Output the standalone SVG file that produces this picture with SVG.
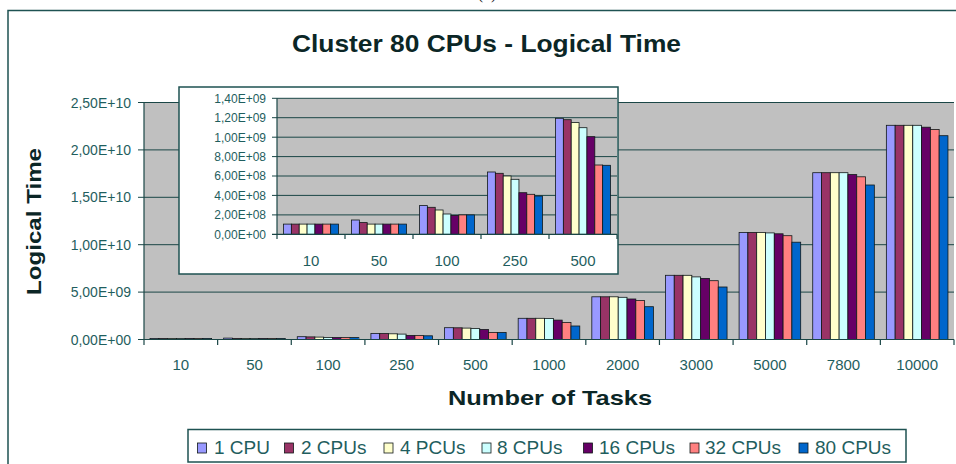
<svg xmlns="http://www.w3.org/2000/svg" width="956" height="464" viewBox="0 0 956 464">
  <defs>
    <style>
      .bg { fill: #ffffff; }
      .frame { fill: none; stroke: #1e5252; stroke-width: 1.5; }
      .plot { fill: #c0c0c0; }
      .grid { stroke: #1a4646; stroke-width: 1; fill: none; }
      .axis { stroke: #1a4646; stroke-width: 1.2; fill: none; }
      .tick { font-family: "Liberation Sans", Arial, sans-serif; fill: #1f5e5e; }
      .ytick { font-size: 14px; text-anchor: end; }
      .ytick-s { font-size: 12px; text-anchor: end; }
      .xtick { font-size: 15px; text-anchor: middle; }
      .title { font-family: "Liberation Sans", Arial, sans-serif; font-weight: bold; fill: #0b2626; }
      .leg { font-family: "Liberation Sans", Arial, sans-serif; font-size: 19px; fill: #1f5e5e; }
      .bars rect { stroke: #101818; stroke-width: 0.8; }
      .c1 { fill: #9999ff; }
      .c2 { fill: #993366; }
      .c3 { fill: #ffffcc; }
      .c4 { fill: #ccffff; }
      .c5 { fill: #660066; }
      .c6 { fill: #ff8080; }
      .c7 { fill: #0066cc; }
      .sw { stroke: #101818; stroke-width: 0.8; }
    </style>
  </defs>

  <rect class="bg" x="0" y="0" width="956" height="464"/>

  <!-- caption line clipped at the top edge -->
  <text x="487" y="-1" font-family="'Liberation Serif', serif" font-size="16" text-anchor="middle" fill="#222">(b)</text>

  <!-- chart frame -->
  <rect class="frame" x="8" y="10.5" width="960" height="470"/>

  <!-- chart title -->
  <g id="title">
    <text class="title" x="486.5" y="52" font-size="24" text-anchor="middle" textLength="389" lengthAdjust="spacingAndGlyphs">Cluster 80 CPUs - Logical Time</text>
  </g>

  <!-- main plot area -->
  <g id="main-plot">
    <rect class="plot" x="144" y="102.5" width="810" height="237"/>
    <g class="grid">
      <line x1="144" y1="102.5" x2="954" y2="102.5"/>
      <line x1="138" y1="149.9" x2="954" y2="149.9"/>
      <line x1="138" y1="197.3" x2="954" y2="197.3"/>
      <line x1="138" y1="244.7" x2="954" y2="244.7"/>
      <line x1="138" y1="292.1" x2="954" y2="292.1"/>
      <line x1="138" y1="102.5" x2="144" y2="102.5"/>
    </g>

    <!-- bars per task count -->
    <g class="bars">
      <g transform="translate(144,0)">
        <rect class="c1" x="6" y="338.5" width="8.8" height="1"/>
        <rect class="c2" x="14.8" y="338.5" width="8.8" height="1"/>
        <rect class="c3" x="23.6" y="338.5" width="8.8" height="1"/>
        <rect class="c4" x="32.4" y="338.5" width="8.8" height="1"/>
        <rect class="c5" x="41.2" y="338.5" width="8.8" height="1"/>
        <rect class="c6" x="50" y="338.5" width="8.8" height="1"/>
        <rect class="c7" x="58.8" y="338.5" width="8.8" height="1"/>
      </g>
      <g transform="translate(217.64,0)">
        <rect class="c1" x="6" y="338.1" width="8.8" height="1.4"/>
        <rect class="c2" x="14.8" y="338.4" width="8.8" height="1.1"/>
        <rect class="c3" x="23.6" y="338.5" width="8.8" height="1"/>
        <rect class="c4" x="32.4" y="338.5" width="8.8" height="1"/>
        <rect class="c5" x="41.2" y="338.5" width="8.8" height="1"/>
        <rect class="c6" x="50" y="338.5" width="8.8" height="1"/>
        <rect class="c7" x="58.8" y="338.5" width="8.8" height="1"/>
      </g>
      <g transform="translate(291.27,0)">
        <rect class="c1" x="6" y="336.7" width="8.8" height="2.8"/>
        <rect class="c2" x="14.8" y="336.9" width="8.8" height="2.6"/>
        <rect class="c3" x="23.6" y="337.1" width="8.8" height="2.4"/>
        <rect class="c4" x="32.4" y="337.5" width="8.8" height="2"/>
        <rect class="c5" x="41.2" y="337.6" width="8.8" height="1.9"/>
        <rect class="c6" x="50" y="337.6" width="8.8" height="1.9"/>
        <rect class="c7" x="58.8" y="337.6" width="8.8" height="1.9"/>
      </g>
      <g transform="translate(364.91,0)">
        <rect class="c1" x="6" y="333.4" width="8.8" height="6.1"/>
        <rect class="c2" x="14.8" y="333.5" width="8.8" height="6"/>
        <rect class="c3" x="23.6" y="333.8" width="8.8" height="5.7"/>
        <rect class="c4" x="32.4" y="334.1" width="8.8" height="5.4"/>
        <rect class="c5" x="41.2" y="335.4" width="8.8" height="4.1"/>
        <rect class="c6" x="50" y="335.6" width="8.8" height="3.9"/>
        <rect class="c7" x="58.8" y="335.8" width="8.8" height="3.7"/>
      </g>
      <g transform="translate(438.55,0)">
        <rect class="c1" x="6" y="327.7" width="8.8" height="11.8"/>
        <rect class="c2" x="14.8" y="327.8" width="8.8" height="11.7"/>
        <rect class="c3" x="23.6" y="328.1" width="8.8" height="11.4"/>
        <rect class="c4" x="32.4" y="328.6" width="8.8" height="10.9"/>
        <rect class="c5" x="41.2" y="329.5" width="8.8" height="10"/>
        <rect class="c6" x="50" y="332.4" width="8.8" height="7.1"/>
        <rect class="c7" x="58.8" y="332.4" width="8.8" height="7.1"/>
      </g>
      <g transform="translate(512.18,0)">
        <rect class="c1" x="6" y="318.3" width="8.8" height="21.2"/>
        <rect class="c2" x="14.8" y="318.3" width="8.8" height="21.2"/>
        <rect class="c3" x="23.6" y="318.3" width="8.8" height="21.2"/>
        <rect class="c4" x="32.4" y="318.5" width="8.8" height="21"/>
        <rect class="c5" x="41.2" y="320.1" width="8.8" height="19.4"/>
        <rect class="c6" x="50" y="322.4" width="8.8" height="17.1"/>
        <rect class="c7" x="58.8" y="326" width="8.8" height="13.5"/>
      </g>
      <g transform="translate(585.82,0)">
        <rect class="c1" x="6" y="296.8" width="8.8" height="42.7"/>
        <rect class="c2" x="14.8" y="296.8" width="8.8" height="42.7"/>
        <rect class="c3" x="23.6" y="296.8" width="8.8" height="42.7"/>
        <rect class="c4" x="32.4" y="297.3" width="8.8" height="42.2"/>
        <rect class="c5" x="41.2" y="299" width="8.8" height="40.5"/>
        <rect class="c6" x="50" y="300.6" width="8.8" height="38.9"/>
        <rect class="c7" x="58.8" y="306.7" width="8.8" height="32.8"/>
      </g>
      <g transform="translate(659.45,0)">
        <rect class="c1" x="6" y="275.3" width="8.8" height="64.2"/>
        <rect class="c2" x="14.8" y="275.3" width="8.8" height="64.2"/>
        <rect class="c3" x="23.6" y="275.3" width="8.8" height="64.2"/>
        <rect class="c4" x="32.4" y="276.9" width="8.8" height="62.6"/>
        <rect class="c5" x="41.2" y="278.4" width="8.8" height="61.1"/>
        <rect class="c6" x="50" y="280.7" width="8.8" height="58.8"/>
        <rect class="c7" x="58.8" y="287" width="8.8" height="52.5"/>
      </g>
      <g transform="translate(733.09,0)">
        <rect class="c1" x="6" y="232.4" width="8.8" height="107.1"/>
        <rect class="c2" x="14.8" y="232.4" width="8.8" height="107.1"/>
        <rect class="c3" x="23.6" y="232.4" width="8.8" height="107.1"/>
        <rect class="c4" x="32.4" y="232.9" width="8.8" height="106.6"/>
        <rect class="c5" x="41.2" y="233.8" width="8.8" height="105.7"/>
        <rect class="c6" x="50" y="235.7" width="8.8" height="103.8"/>
        <rect class="c7" x="58.8" y="242.2" width="8.8" height="97.3"/>
      </g>
      <g transform="translate(806.73,0)">
        <rect class="c1" x="6" y="172.7" width="8.8" height="166.8"/>
        <rect class="c2" x="14.8" y="172.7" width="8.8" height="166.8"/>
        <rect class="c3" x="23.6" y="172.7" width="8.8" height="166.8"/>
        <rect class="c4" x="32.4" y="172.7" width="8.8" height="166.8"/>
        <rect class="c5" x="41.2" y="174.6" width="8.8" height="164.9"/>
        <rect class="c6" x="50" y="176.8" width="8.8" height="162.7"/>
        <rect class="c7" x="58.8" y="185" width="8.8" height="154.5"/>
      </g>
      <g transform="translate(880.36,0)">
        <rect class="c1" x="6" y="125.3" width="8.8" height="214.2"/>
        <rect class="c2" x="14.8" y="125.3" width="8.8" height="214.2"/>
        <rect class="c3" x="23.6" y="125.3" width="8.8" height="214.2"/>
        <rect class="c4" x="32.4" y="125.3" width="8.8" height="214.2"/>
        <rect class="c5" x="41.2" y="127.2" width="8.8" height="212.3"/>
        <rect class="c6" x="50" y="129.5" width="8.8" height="210"/>
        <rect class="c7" x="58.8" y="135.7" width="8.8" height="203.8"/>
      </g>
    </g>

    <!-- axes and ticks -->
    <g class="axis">
      <line x1="144" y1="102.5" x2="144" y2="345"/>
      <line x1="138" y1="339.5" x2="954" y2="339.5"/>
      <path d="M217.64 339.5V345M291.27 339.5V345M364.91 339.5V345M438.55 339.5V345M512.18 339.5V345M585.82 339.5V345M659.45 339.5V345M733.09 339.5V345M806.73 339.5V345M880.36 339.5V345M954 339.5V345"/>
    </g>

    <g class="tick ytick">
      <text x="131" y="107.5">2,50E+10</text>
      <text x="131" y="154.9">2,00E+10</text>
      <text x="131" y="202.3">1,50E+10</text>
      <text x="131" y="249.7">1,00E+10</text>
      <text x="131" y="297.1">5,00E+09</text>
      <text x="131" y="344.5">0,00E+00</text>
    </g>
    <g class="tick xtick">
      <text x="180.8" y="370">10</text>
      <text x="254.5" y="370">50</text>
      <text x="328.1" y="370">100</text>
      <text x="401.7" y="370">250</text>
      <text x="475.4" y="370">500</text>
      <text x="549" y="370">1000</text>
      <text x="622.6" y="370">2000</text>
      <text x="696.3" y="370">3000</text>
      <text x="769.9" y="370">5000</text>
      <text x="843.5" y="370">7800</text>
      <text x="917.2" y="370">10000</text>
    </g>
  </g>

  <!-- axis titles -->
  <g id="axis-titles">
    <text class="title" transform="translate(41,221.5) rotate(-90)" font-size="21" text-anchor="middle" textLength="147" lengthAdjust="spacingAndGlyphs">Logical Time</text>
    <text class="title" x="550" y="405" font-size="21" text-anchor="middle" textLength="204" lengthAdjust="spacingAndGlyphs">Number of Tasks</text>
  </g>

  <!-- inset: tasks 10 to 500 -->
  <g id="inset">
    <rect x="179" y="87" width="439" height="187" fill="#ffffff" stroke="#1e5252" stroke-width="1.5"/>
    <rect class="plot" x="277" y="98.3" width="340" height="136"/>
    <g class="grid">
      <line x1="272" y1="98.3" x2="617" y2="98.3"/>
      <line x1="272" y1="117.7" x2="617" y2="117.7"/>
      <line x1="272" y1="137.2" x2="617" y2="137.2"/>
      <line x1="272" y1="156.6" x2="617" y2="156.6"/>
      <line x1="272" y1="176" x2="617" y2="176"/>
      <line x1="272" y1="195.4" x2="617" y2="195.4"/>
      <line x1="272" y1="214.9" x2="617" y2="214.9"/>
    </g>
    <g class="bars">
      <g transform="translate(277,0)">
        <rect class="c1" x="6.5" y="224.1" width="7.86" height="10.2"/>
        <rect class="c2" x="14.36" y="224.1" width="7.86" height="10.2"/>
        <rect class="c3" x="22.22" y="224.1" width="7.86" height="10.2"/>
        <rect class="c4" x="30.08" y="224.1" width="7.86" height="10.2"/>
        <rect class="c5" x="37.94" y="224.1" width="7.86" height="10.2"/>
        <rect class="c6" x="45.8" y="224.1" width="7.86" height="10.2"/>
        <rect class="c7" x="53.66" y="224.1" width="7.86" height="10.2"/>
      </g>
      <g transform="translate(345,0)">
        <rect class="c1" x="6.5" y="220" width="7.86" height="14.3"/>
        <rect class="c2" x="14.36" y="222.6" width="7.86" height="11.7"/>
        <rect class="c3" x="22.22" y="224.1" width="7.86" height="10.2"/>
        <rect class="c4" x="30.08" y="224.1" width="7.86" height="10.2"/>
        <rect class="c5" x="37.94" y="224.1" width="7.86" height="10.2"/>
        <rect class="c6" x="45.8" y="224.1" width="7.86" height="10.2"/>
        <rect class="c7" x="53.66" y="224.1" width="7.86" height="10.2"/>
      </g>
      <g transform="translate(413,0)">
        <rect class="c1" x="6.5" y="205.6" width="7.86" height="28.7"/>
        <rect class="c2" x="14.36" y="207.3" width="7.86" height="27"/>
        <rect class="c3" x="22.22" y="210" width="7.86" height="24.3"/>
        <rect class="c4" x="30.08" y="214" width="7.86" height="20.3"/>
        <rect class="c5" x="37.94" y="215.4" width="7.86" height="18.9"/>
        <rect class="c6" x="45.8" y="214.9" width="7.86" height="19.4"/>
        <rect class="c7" x="53.66" y="214.9" width="7.86" height="19.4"/>
      </g>
      <g transform="translate(481,0)">
        <rect class="c1" x="6.5" y="172" width="7.86" height="62.3"/>
        <rect class="c2" x="14.36" y="173.3" width="7.86" height="61"/>
        <rect class="c3" x="22.22" y="176" width="7.86" height="58.3"/>
        <rect class="c4" x="30.08" y="179.3" width="7.86" height="55"/>
        <rect class="c5" x="37.94" y="192.7" width="7.86" height="41.6"/>
        <rect class="c6" x="45.8" y="194.3" width="7.86" height="40"/>
        <rect class="c7" x="53.66" y="196" width="7.86" height="38.3"/>
      </g>
      <g transform="translate(549,0)">
        <rect class="c1" x="6.5" y="118.3" width="7.86" height="116"/>
        <rect class="c2" x="14.36" y="119.7" width="7.86" height="114.6"/>
        <rect class="c3" x="22.22" y="122.6" width="7.86" height="111.7"/>
        <rect class="c4" x="30.08" y="127.7" width="7.86" height="106.6"/>
        <rect class="c5" x="37.94" y="136.7" width="7.86" height="97.6"/>
        <rect class="c6" x="45.8" y="165" width="7.86" height="69.3"/>
        <rect class="c7" x="53.66" y="165.3" width="7.86" height="69"/>
      </g>
    </g>
    <g class="axis">
      <line x1="277" y1="98.3" x2="277" y2="239"/>
      <line x1="272" y1="234.3" x2="617" y2="234.3"/>
      <path d="M345 234.3V239M413 234.3V239M481 234.3V239M549 234.3V239M617 234.3V239"/>
    </g>
    <g class="tick ytick-s">
      <text x="266" y="102.6">1,40E+09</text>
      <text x="266" y="122">1,20E+09</text>
      <text x="266" y="141.5">1,00E+09</text>
      <text x="266" y="160.9">8,00E+08</text>
      <text x="266" y="180.3">6,00E+08</text>
      <text x="266" y="199.7">4,00E+08</text>
      <text x="266" y="219.2">2,00E+08</text>
      <text x="266" y="238.6">0,00E+00</text>
    </g>
    <g class="tick xtick">
      <text x="311" y="265.5">10</text>
      <text x="379" y="265.5">50</text>
      <text x="447" y="265.5">100</text>
      <text x="515" y="265.5">250</text>
      <text x="583" y="265.5">500</text>
    </g>
  </g>

  <!-- legend -->
  <g id="legend">
    <rect x="188" y="429.5" width="718" height="32.5" fill="#ffffff" stroke="#1e5252" stroke-width="1.5"/>
    <rect class="c1 sw" x="197.5" y="443" width="9" height="10"/>
    <text class="leg" x="214" y="453.5">1 CPU</text>
    <rect class="c2 sw" x="284.5" y="443" width="9" height="10"/>
    <text class="leg" x="301" y="453.5">2 CPUs</text>
    <rect class="c3 sw" x="384" y="443" width="9" height="10"/>
    <text class="leg" x="400" y="453.5">4 PCUs</text>
    <rect class="c4 sw" x="482" y="443" width="9" height="10"/>
    <text class="leg" x="497" y="453.5">8 CPUs</text>
    <rect class="c5 sw" x="583.5" y="443" width="9" height="10"/>
    <text class="leg" x="599" y="453.5">16 CPUs</text>
    <rect class="c6 sw" x="690" y="443" width="9" height="10"/>
    <text class="leg" x="705" y="453.5">32 CPUs</text>
    <rect class="c7 sw" x="799" y="443" width="9" height="10"/>
    <text class="leg" x="815" y="453.5">80 CPUs</text>
  </g>
</svg>
